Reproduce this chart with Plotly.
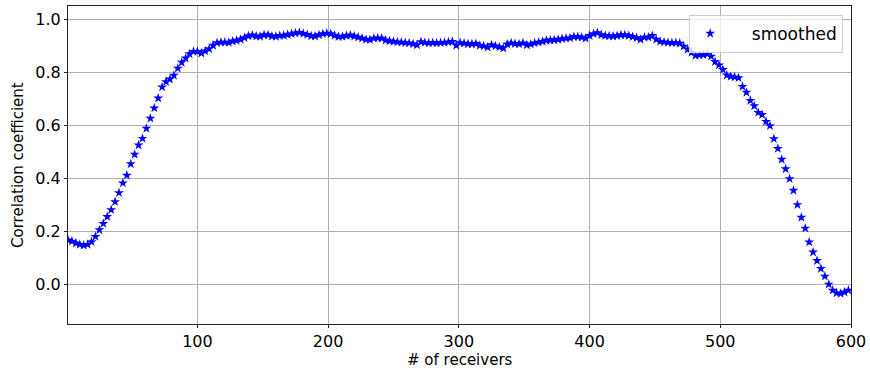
import plotly.graph_objects as go

# receiver index (every 3rd receiver)
receivers = list(range(1, 600, 3))

smoothed = [
    0.167, 0.162, 0.155, 0.150, 0.147, 0.150, 0.160, 0.180, 0.205, 0.229,
    0.255, 0.281, 0.311, 0.345, 0.382, 0.411, 0.454, 0.490, 0.525, 0.550,
    0.588, 0.626, 0.665, 0.702, 0.744, 0.764, 0.774, 0.788, 0.815, 0.837,
    0.853, 0.869, 0.878, 0.878, 0.872, 0.880, 0.888, 0.901, 0.911, 0.913,
    0.913, 0.912, 0.917, 0.920, 0.924, 0.930, 0.937, 0.940, 0.936, 0.935,
    0.941, 0.941, 0.936, 0.935, 0.938, 0.939, 0.942, 0.945, 0.948, 0.950,
    0.946, 0.942, 0.937, 0.936, 0.941, 0.945, 0.947, 0.945, 0.939, 0.934,
    0.935, 0.938, 0.940, 0.936, 0.932, 0.928, 0.924, 0.923, 0.928, 0.929,
    0.928, 0.921, 0.918, 0.916, 0.914, 0.913, 0.911, 0.910, 0.907, 0.903,
    0.915, 0.912, 0.910, 0.911, 0.910, 0.911, 0.912, 0.914, 0.916, 0.901,
    0.911, 0.909, 0.907, 0.907, 0.908, 0.901, 0.899, 0.894, 0.903, 0.899,
    0.895, 0.891, 0.906, 0.910, 0.908, 0.907, 0.910, 0.903, 0.906, 0.910,
    0.913, 0.916, 0.920, 0.921, 0.922, 0.924, 0.926, 0.928, 0.929, 0.934,
    0.934, 0.932, 0.928, 0.938, 0.945, 0.949, 0.941, 0.938, 0.937, 0.936,
    0.938, 0.941, 0.941, 0.938, 0.934, 0.930, 0.924, 0.932, 0.932, 0.938,
    0.924, 0.916, 0.914, 0.912, 0.911, 0.911, 0.909, 0.898, 0.886, 0.875,
    0.863, 0.865, 0.866, 0.869, 0.860, 0.840, 0.827, 0.810, 0.789, 0.784,
    0.782, 0.779, 0.746, 0.724, 0.693, 0.673, 0.648, 0.640, 0.614, 0.598,
    0.549, 0.512, 0.471, 0.435, 0.398, 0.354, 0.300, 0.252, 0.211, 0.159,
    0.121, 0.089, 0.059, 0.030, 0.000, -0.023, -0.033, -0.035, -0.030, -0.023,
]

x_ticks = [100, 200, 300, 400, 500, 600]
y_ticks = [0.0, 0.2, 0.4, 0.6, 0.8, 1.0]
y_tick_labels = ["0.0", "0.2", "0.4", "0.6", "0.8", "1.0"]
x_title = "# of receivers"
y_title = "Correlation coefficient"

font_family = "DejaVu Sans"
txt_font = dict(family=font_family, size=16, color="black")
title_font = dict(family=font_family, size=15, color="black")

fig = go.Figure()
fig.add_trace(go.Scatter(
    x=receivers, y=smoothed, mode="markers",
    name="\u00a0\u00a0\u00a0\u00a0smoothed",
    marker=dict(symbol="star", size=7.5, color="#0000ff", line=dict(width=0)),
))

axis_common = dict(
    showline=True, linecolor="#222222", linewidth=1, mirror=True,
    showgrid=True, gridcolor="#b0b0b0", gridwidth=0.8,
    ticks="outside", ticklen=3, tickcolor="#222222", tickwidth=1,
    zeroline=False, automargin=False,
    tickfont=txt_font,
)

fig.update_layout(
    width=870, height=370,
    margin=dict(l=68, r=19, t=6, b=46),
    paper_bgcolor="white", plot_bgcolor="white",
    font=txt_font,
    showlegend=True,
    legend=dict(
        x=0.99, y=0.972, xanchor="right", yanchor="top",
        bgcolor="rgba(255,255,255,0.8)", bordercolor="#d0d0d0", borderwidth=1,
        font=dict(family=font_family, size=17, color="black"),
        itemwidth=30,
    ),
    xaxis=dict(range=[1, 600], tickvals=x_ticks, **axis_common),
    yaxis=dict(range=[-0.15, 1.05], tickvals=y_ticks, ticktext=y_tick_labels, **axis_common),
    annotations=[
        dict(text=x_title, xref="paper", yref="paper", x=0.5, y=-0.1445,
             xanchor="center", yanchor="bottom", borderpad=0, showarrow=False,
             font=title_font),
        dict(text=y_title, xref="paper", yref="paper", x=-0.0639, y=0.5,
             xanchor="center", yanchor="middle", showarrow=False, textangle=-90,
             font=title_font),
    ],
)

fig.write_html("out.html")
